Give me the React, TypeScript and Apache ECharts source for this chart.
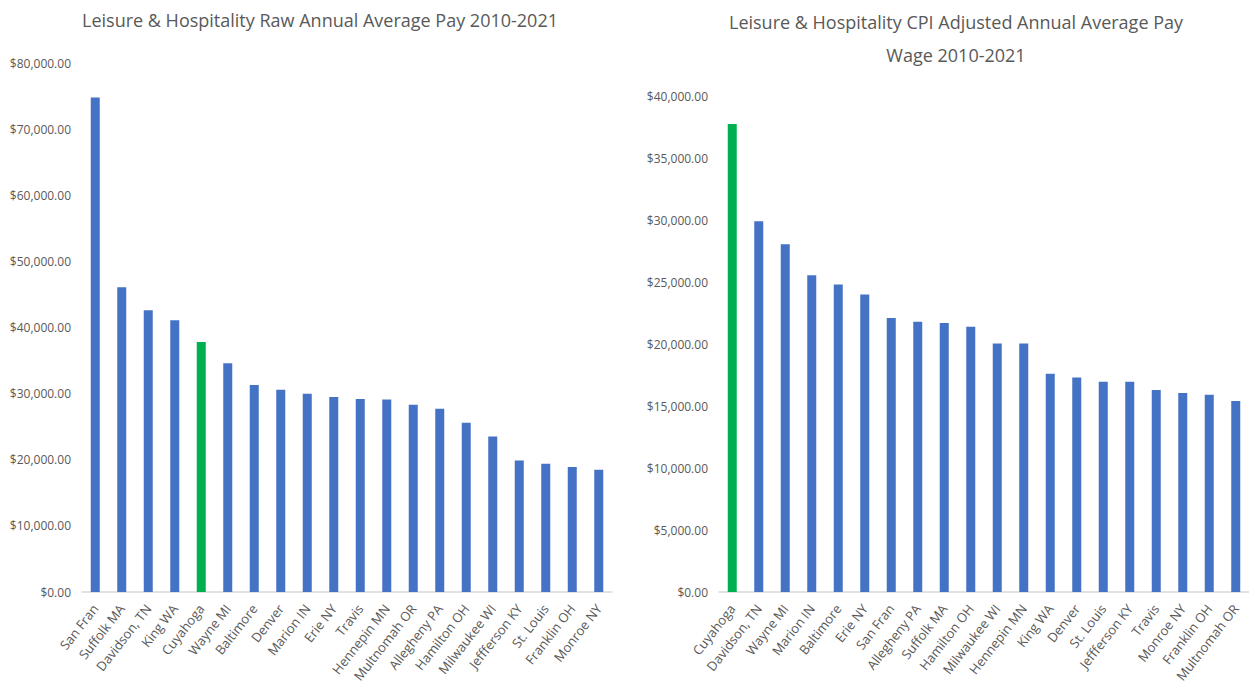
import React, { useEffect, useRef } from "react";
import * as echarts from "echarts";

const rawCategories = [
  "San Fran", "Suffolk MA", "Davidson, TN", "King WA", "Cuyahoga", "Wayne MI", "Baltimore",
  "Denver", "Marion IN", "Erie NY", "Travis", "Hennepin MN", "Multnomah OR", "Allegheny PA",
  "Hamilton OH", "Milwaukee WI", "Jeffferson KY", "St. Louis", "Franklin OH", "Monroe NY",
];
const rawValues = [
  74800, 46100, 42600, 41100, 37800, 34600, 31300, 30600, 30000, 29500, 29200, 29100,
  28300, 27700, 25600, 23500, 19900, 19400, 18900, 18500,
];

const cpiCategories = [
  "Cuyahoga", "Davidson, TN", "Wayne MI", "Marion IN", "Baltimore", "Erie NY", "San Fran",
  "Allegheny PA", "Suffolk MA", "Hamilton OH", "Milwaukee WI", "Hennepin MN", "King WA",
  "Denver", "St. Louis", "Jeffferson KY", "Travis", "Monroe NY", "Franklin OH", "Multnomah OR",
];
const cpiValues = [
  37750, 29900, 28050, 25550, 24800, 24000, 22100, 21800, 21700, 21400, 20050, 20050,
  17600, 17300, 16950, 16950, 16300, 16050, 15900, 15400,
];

const rawTicksMax = 80000;
const rawTickStep = 10000;
const cpiTicksMax = 40000;
const cpiTickStep = 5000;

const highlight = "Cuyahoga";
const BLUE = "#4472C4";
const GREEN = "#00B050";
const TEXT = "#595959";
const FONT = "'Open Sans', 'Noto Sans', sans-serif";

const money = (v: number) =>
  "$" + v.toLocaleString("en-US", { minimumFractionDigits: 2, maximumFractionDigits: 2 });

export default function App() {
  const ref = useRef<HTMLDivElement>(null);
  useEffect(() => {
    if (!ref.current) return;
    document.body.style.margin = "0";
    const chart = echarts.init(ref.current, undefined, { renderer: "svg" });
    const mk = (cats: string[], vals: number[]) =>
      vals.map((v, i) => ({
        value: v,
        itemStyle: { color: cats[i] === highlight ? GREEN : BLUE },
      }));
    const xAx = (cats: string[], gi: number) => ({
      type: "category",
      gridIndex: gi,
      data: cats,
      axisTick: { show: false },
      axisLine: { lineStyle: { color: "#D9D9D9", width: 1.5 } },
      axisLabel: {
        rotate: 52,
        interval: 0,
        color: TEXT,
        fontSize: 13,
        fontFamily: FONT,
        margin: 14,
      },
    });
    const yAx = (max: number, step: number, gi: number) => ({
      type: "value",
      gridIndex: gi,
      min: 0,
      max,
      interval: step,
      splitLine: { show: false },
      axisLine: { show: false },
      axisTick: { show: false },
      axisLabel: {
        color: TEXT,
        fontSize: 12,
        fontFamily: FONT,
        margin: 11,
        formatter: (v: number) => money(v),
      },
    });
    chart.setOption({
      animation: false,
      backgroundColor: "#fff",
      title: [
        {
          text: "Leisure & Hospitality Raw Annual Average Pay 2010-2021",
          left: 315,
          top: 6,
          textAlign: "center",
          textStyle: { color: TEXT, fontSize: 18, fontWeight: "normal", fontFamily: FONT },
        },
        {
          text: "Leisure & Hospitality CPI Adjusted Annual Average Pay\nWage 2010-2021",
          left: 951,
          top: 0,
          textAlign: "center",
          textStyle: {
            color: TEXT,
            fontSize: 18,
            lineHeight: 33,
            fontWeight: "normal",
            fontFamily: FONT,
          },
        },
      ],
      grid: [
        { left: 82, width: 530, top: 63, height: 529 },
        { left: 719, width: 530, top: 96, height: 496 },
      ],
      xAxis: [xAx(rawCategories, 0), xAx(cpiCategories, 1)],
      yAxis: [yAx(rawTicksMax, rawTickStep, 0), yAx(cpiTicksMax, cpiTickStep, 1)],
      series: [
        {
          type: "bar",
          xAxisIndex: 0,
          yAxisIndex: 0,
          barWidth: 9,
          data: mk(rawCategories, rawValues),
        },
        {
          type: "bar",
          xAxisIndex: 1,
          yAxisIndex: 1,
          barWidth: 9,
          data: mk(cpiCategories, cpiValues),
        },
      ],
    });
    return () => chart.dispose();
  }, []);
  return (
    <div
      ref={ref}
      style={{ position: "absolute", left: 0, top: 0, width: 1249, height: 694 }}
    />
  );
}
